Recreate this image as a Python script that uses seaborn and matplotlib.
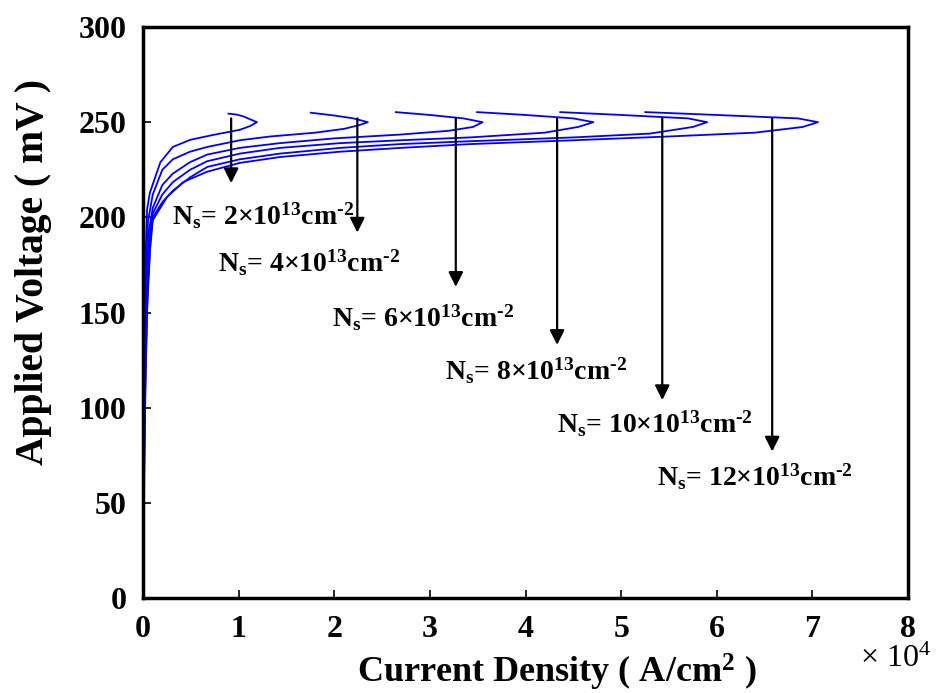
import matplotlib
matplotlib.use("Agg")
import matplotlib.pyplot as plt
import seaborn as sns
import pandas as pd

# Current density in units of 1e4 A/cm^2, voltage in mV
j_ns2 = [0, 0.004, 0.01, 0.025, 0.04, 0.07, 0.125, 0.18, 0.31, 0.49, 0.73, 1.01, 1.12, 1.19, 1.05, 0.98, 0.89]
v_ns2 = [0, 60, 130, 180, 204, 213, 221, 229, 237, 240.7, 243.3, 246, 248, 250, 253, 254, 254.5]

j_ns4 = [0, 0.005, 0.012, 0.03, 0.05, 0.1, 0.2, 0.31, 0.49, 0.67, 1.01, 1.33, 1.8, 2.1, 2.25, 2.35, 2.2, 2.0, 1.75]
v_ns4 = [0, 60, 120, 175, 198, 212, 225, 230.5, 234.5, 237, 240.5, 242.5, 244.5, 246.5, 248.3, 250, 252, 253.5, 255]

j_ns6 = [0, 0.006, 0.014, 0.035, 0.06, 0.1, 0.2, 0.31, 0.49, 0.67, 1.01, 1.43, 2.0, 2.69, 3.2, 3.45, 3.55, 3.35, 3.0, 2.64]
v_ns6 = [0, 60, 115, 170, 193, 205, 217, 223, 229, 233, 236.5, 239, 241.5, 243.5, 245.5, 247.5, 250, 252, 253.8, 255.3]

j_ns8 = [0, 0.007, 0.016, 0.04, 0.07, 0.1, 0.2, 0.31, 0.49, 0.67, 1.01, 1.43, 2.06, 2.69, 3.42, 4.2, 4.55, 4.71, 4.5, 4.0, 3.49]
v_ns8 = [0, 60, 110, 165, 190, 202, 212, 218.5, 225, 229.5, 233.5, 236.5, 239, 240.5, 242, 244.5, 247.5, 250, 252, 253.8, 255.3]

j_ns10 = [0, 0.008, 0.018, 0.045, 0.075, 0.1, 0.2, 0.31, 0.49, 0.67, 1.01, 1.43, 2.06, 2.69, 3.42, 4.5, 5.3, 5.75, 5.9, 5.7, 5.0, 4.36]
v_ns10 = [0, 60, 105, 160, 187, 200, 208, 214, 221, 226.5, 230.5, 233.5, 236.5, 238.5, 240, 242, 244, 247.5, 250, 252, 253.8, 255.3]

j_ns12 = [0, 0.01, 0.02, 0.04, 0.07, 0.1, 0.25, 0.42, 0.67, 1.01, 1.43, 2.06, 2.69, 3.42, 4.5, 5.5, 6.4, 6.9, 7.06, 6.85, 6.0, 5.25]
v_ns12 = [0, 60, 100, 150, 182, 198.5, 210.7, 218.6, 224, 228.6, 231.7, 234.5, 236.5, 238.5, 240.5, 242.5, 244.5, 247.5, 250, 252, 253.8, 255.3]

ns_labels = [r"N$_\mathbf{s}$= 2×10$^\mathbf{13}$cm$^\mathbf{‐2}$",
             r"N$_\mathbf{s}$= 4×10$^\mathbf{13}$cm$^\mathbf{‐2}$",
             r"N$_\mathbf{s}$= 6×10$^\mathbf{13}$cm$^\mathbf{‐2}$",
             r"N$_\mathbf{s}$= 8×10$^\mathbf{13}$cm$^\mathbf{‐2}$",
             r"N$_\mathbf{s}$= 10×10$^\mathbf{13}$cm$^\mathbf{‐2}$",
             r"N$_\mathbf{s}$= 12×10$^\mathbf{13}$cm$^\mathbf{‐2}$"]
arrow_x = [0.92, 2.24, 3.27, 4.33, 5.43, 6.58]
arrow_top = [252, 252, 252, 252, 252, 252]
arrow_end = [218, 192, 163.5, 133, 104, 77]
label_x = [0.30, 0.78, 1.98, 3.16, 4.33, 5.38]
label_y = [196, 171.3, 142.4, 114.6, 86.7, 58.9]

x_ticks = [0, 1, 2, 3, 4, 5, 6, 7, 8]
y_ticks = [0, 50, 100, 150, 200, 250, 300]

curves = [(j_ns2, v_ns2), (j_ns4, v_ns4), (j_ns6, v_ns6),
          (j_ns8, v_ns8), (j_ns10, v_ns10), (j_ns12, v_ns12)]
rows = []
for k, (jj, vv) in enumerate(curves):
    for i, (a, b) in enumerate(zip(jj, vv)):
        rows.append({"curve": k, "order": i, "J": a, "V": b})
df = pd.DataFrame(rows)

sns.set_style("ticks")
plt.rcParams["font.family"] = ["Liberation Serif", "DejaVu Serif"]
plt.rcParams["mathtext.fontset"] = "custom"
plt.rcParams["mathtext.rm"] = "Liberation Serif"
plt.rcParams["mathtext.bf"] = "Liberation Serif:bold"
plt.rcParams["mathtext.it"] = "Liberation Serif:italic"
plt.rcParams["text.color"] = "black"
plt.rcParams["axes.labelcolor"] = "black"
plt.rcParams["xtick.color"] = "black"
plt.rcParams["ytick.color"] = "black"
plt.rcParams["axes.edgecolor"] = "black"

fig = plt.figure(figsize=(9.36, 6.93), dpi=100)
ax = fig.add_axes([0.153, 0.137, 0.817, 0.824])

for k in range(len(curves)):
    sub = df[df["curve"] == k]
    sns.lineplot(data=sub, x="J", y="V", sort=False, estimator=None,
                 color="#0000ff", linewidth=1.3, ax=ax, legend=False)

for xa, yt, ye in zip(arrow_x, arrow_top, arrow_end):
    ax.annotate("", xy=(xa, ye), xytext=(xa, yt),
                arrowprops=dict(arrowstyle="-|>", color="black", lw=1.6,
                                mutation_scale=22, shrinkA=0, shrinkB=0))
for lx, ly, lab in zip(label_x, label_y, ns_labels):
    ax.text(lx, ly, lab, fontsize=20, fontweight="bold", va="baseline", ha="left")

ax.set_xlim(0, 8)
ax.set_ylim(0, 300)
ax.set_xticks(x_ticks)
ax.set_yticks(y_ticks)
ax.set_xticklabels([str(t) for t in x_ticks], fontsize=23, fontweight="bold")
ax.set_yticklabels([str(t) for t in y_ticks], fontsize=23, fontweight="bold")
ax.tick_params(axis="x", direction="in", length=6, width=1.2, pad=12)
ax.tick_params(axis="y", direction="in", length=6, width=1.2, pad=12)
for s in ax.spines.values():
    s.set_linewidth(2.5)
    s.set_visible(True)
ax.set_xlabel(r"Current Density ( A/cm$^\mathbf{2}$ )", fontsize=26, fontweight="bold")
ax.set_ylabel("Applied Voltage ( mV )", fontsize=28.5, fontweight="bold")
ax.xaxis.set_label_coords(0.541, -0.131)
ax.yaxis.set_label_coords(-0.143, 0.571)
ax.xaxis.label.set_va("center")
ax.yaxis.label.set_va("center")
fig.text(0.957, 0.048, r"× 10$^{4}$", fontsize=23, ha="center", va="center")

fig.savefig("out.png", dpi=100)
